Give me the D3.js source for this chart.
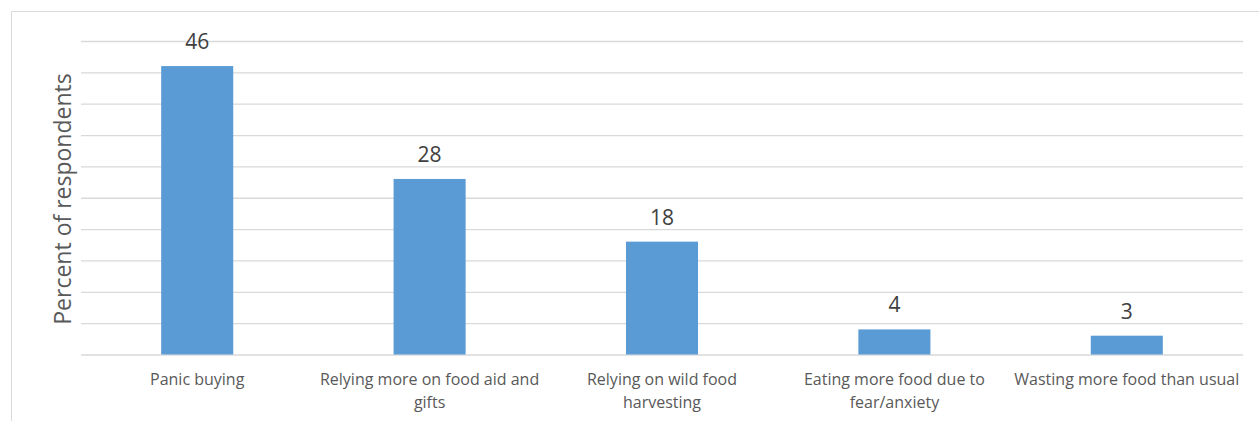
<!DOCTYPE html>
<html>
<head>
<meta charset="utf-8">
<script src="https://cdn.jsdelivr.net/npm/d3@7"></script>
<style>
  html, body { margin: 0; padding: 0; background: #fff; }
  svg { display: block; }
  text { font-family: "Open Sans", "Noto Sans", sans-serif; }
</style>
</head>
<body>
<svg id="chart" width="1259" height="421"></svg>
<script>
const categories = [
  "Panic buying",
  "Relying more on food aid and gifts",
  "Relying on wild food harvesting",
  "Eating more food due to fear/anxiety",
  "Wasting more food than usual"
];
const categoryLines = [
  ["Panic buying"],
  ["Relying more on food aid and", "gifts"],
  ["Relying on wild food", "harvesting"],
  ["Eating more food due to", "fear/anxiety"],
  ["Wasting more food than usual"]
];
const values = [46, 28, 18, 4, 3];
const gridTicks = [0, 5, 10, 15, 20, 25, 30, 35, 40, 45, 50];
const yTitle = "Percent of respondents";

const svg = d3.select("#chart");
const W = 1259, H = 421;
const margin = { left: 81, right: 16, top: 41, bottom: 66.5 };
const plotW = W - margin.left - margin.right;
const plotH = H - margin.top - margin.bottom;

// outer frame (left and top edges visible)
svg.append("path")
  .attr("d", `M11.5,${H} L11.5,11.5 L${W},11.5`)
  .attr("fill", "none")
  .attr("stroke", "#d9d9d9")
  .attr("stroke-width", 1);

const g = svg.append("g").attr("transform", `translate(${margin.left},${margin.top})`);

const x = d3.scaleBand().domain(categories).range([0, plotW]).paddingInner(0.69).paddingOuter(0.345);
const y = d3.scaleLinear().domain([0, 50]).range([plotH, 0]);

// gridlines via axis
const yAxis = d3.axisLeft(y).tickValues(gridTicks).tickSize(-plotW).tickFormat("");
const gy = g.append("g").call(yAxis);
gy.select(".domain").remove();
gy.selectAll(".tick line").attr("stroke", "#d9d9d9").attr("stroke-width", 1.3);

// bars
g.selectAll("rect.bar").data(values).enter().append("rect")
  .attr("class", "bar")
  .attr("x", (d, i) => x(categories[i]))
  .attr("y", d => y(d))
  .attr("width", x.bandwidth())
  .attr("height", d => y(0) - y(d))
  .attr("fill", "#5b9bd5");

// data labels
g.selectAll("text.val").data(values).enter().append("text")
  .attr("class", "val")
  .attr("x", (d, i) => x(categories[i]) + x.bandwidth() / 2)
  .attr("y", d => y(d) - 17)
  .attr("text-anchor", "middle")
  .attr("font-size", 21)
  .attr("fill", "#404040")
  .text(d => d);

// category labels
const xl = g.append("g").attr("transform", `translate(0,${plotH})`);
categoryLines.forEach((lines, i) => {
  const t = xl.append("text")
    .attr("x", x(categories[i]) + x.bandwidth() / 2)
    .attr("y", 30)
    .attr("text-anchor", "middle")
    .attr("font-size", 16)
    .attr("fill", "#595959");
  lines.forEach((ln, j) => {
    t.append("tspan")
      .attr("x", x(categories[i]) + x.bandwidth() / 2)
      .attr("dy", j === 0 ? 0 : 23)
      .text(ln);
  });
});

// y title
svg.append("text")
  .attr("transform", `translate(71,199) rotate(-90)`)
  .attr("text-anchor", "middle")
  .attr("font-size", 23)
  .attr("fill", "#595959")
  .text(yTitle);
</script>
</body>
</html>
